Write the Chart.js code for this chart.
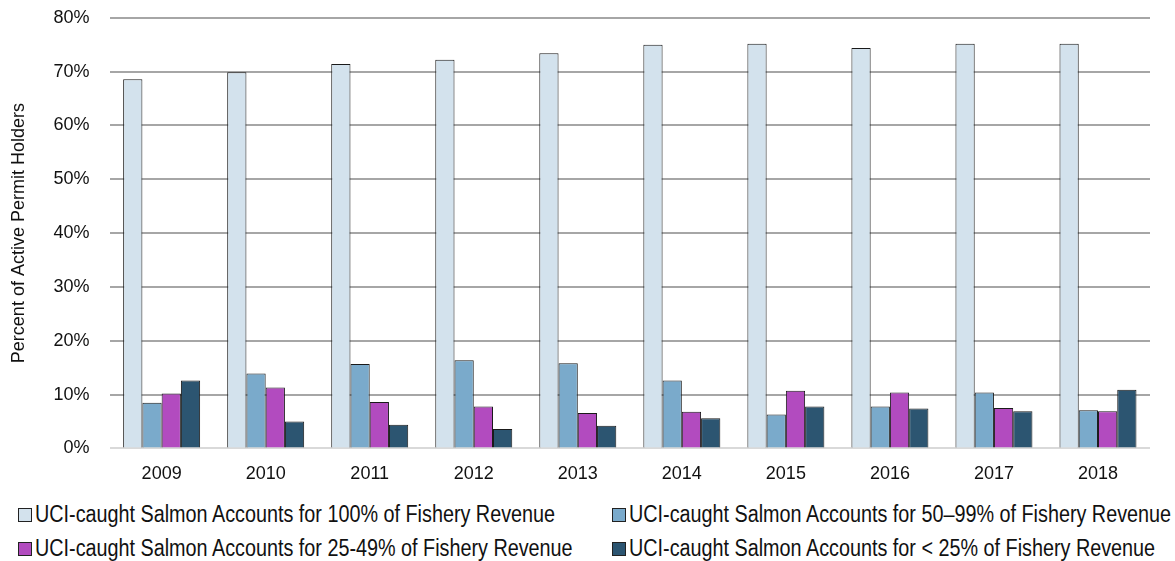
<!DOCTYPE html>
<html>
<head>
<meta charset="utf-8">
<script src="https://cdn.jsdelivr.net/npm/chart.js@4/dist/chart.umd.min.js"></script>
<style>
  html, body { margin: 0; padding: 0; background: #fff; }
  body { width: 1175px; height: 561px; overflow: hidden; font-family: "Liberation Sans", Arial, sans-serif; }
  .chart-wrap { position: relative; width: 1175px; height: 505px; margin-top: -13px; }
  .legend { display: grid; grid-template-columns: 594px 570px; padding-left: 18px; row-gap: 7px; margin-top: 9px; }
  .legend__item { display: flex; align-items: center; font-size: 23px; line-height: 27px; color: #111; white-space: nowrap; }
  .legend__box { flex: none; width: 14px; height: 14px; border: 1px solid #222; margin-right: 3px; box-sizing: border-box; }
  .legend__text { display: inline-block; transform: scaleX(0.86); transform-origin: left center; }
</style>
</head>
<body>
<div class="chart-wrap"><canvas id="chart"></canvas></div>
<div class="legend" id="legend"></div>
<script>
const years = ['2009', '2010', '2011', '2012', '2013', '2014', '2015', '2016', '2017', '2018'];

const share100 = [68.6, 69.9, 71.4, 72.2, 73.4, 75.0, 75.2, 74.4, 75.2, 75.2];
const share50to99 = [8.5, 13.9, 15.7, 16.4, 15.8, 12.6, 6.3, 7.8, 10.4, 7.1];
const share25to49 = [10.2, 11.3, 8.6, 7.8, 6.6, 6.8, 10.7, 10.4, 7.5, 6.9];
const shareUnder25 = [12.6, 5.0, 4.4, 3.6, 4.2, 5.6, 7.8, 7.4, 6.9, 10.9];

const yTicks = [0, 10, 20, 30, 40, 50, 60, 70, 80];

const SERIES = [
  { label: 'UCI-caught Salmon Accounts for 100% of Fishery Revenue', data: share100, color: '#d3e2ed' },
  { label: 'UCI-caught Salmon Accounts for 50\u201399% of Fishery Revenue', data: share50to99, color: '#7aaacb' },
  { label: 'UCI-caught Salmon Accounts for 25-49% of Fishery Revenue', data: share25to49, color: '#b24bbf' },
  { label: 'UCI-caught Salmon Accounts for < 25% of Fishery Revenue', data: shareUnder25, color: '#2c5571' },
];

// legend order: 100%, 50-99% on row 1; 25-49%, <25% on row 2
const legendEl = document.getElementById('legend');
for (const s of SERIES) {
  const item = document.createElement('div');
  item.className = 'legend__item';
  item.innerHTML = `<span class="legend__box" style="background:${s.color}"></span><span class="legend__text">${s.label}</span>`;
  legendEl.appendChild(item);
}

const FONT = "'Liberation Sans', Arial, sans-serif";

new Chart(document.getElementById('chart'), {
  type: 'bar',
  data: {
    labels: years,
    datasets: SERIES.map(s => ({
      label: s.label,
      data: s.data,
      backgroundColor: s.color,
      borderColor: '#1a1a1a',
      borderWidth: 1,
      borderSkipped: 'bottom',
      categoryPercentage: 0.74,
      barPercentage: 1.0,
    })),
  },
  options: {
    responsive: true,
    maintainAspectRatio: false,
    animation: false,
    layout: { padding: { top: 0, right: 25, left: 8, bottom: 0 } },
    plugins: {
      legend: { display: false },
      tooltip: { enabled: false },
    },
    scales: {
      x: {
        grid: { display: false },
        border: { display: false },
        ticks: { color: '#111', font: { family: FONT, size: 18 }, padding: 7 },
      },
      y: {
        min: 0,
        max: 80,
        afterBuildTicks: axis => { axis.ticks = yTicks.map(v => ({ value: v })); },
        grid: {
          color: ctx => (ctx.tick && ctx.tick.value === 0 ? '#d9d9d9' : '#a6a6a6'),
          lineWidth: 2,
          drawTicks: false,
        },
        border: { display: false },
        ticks: {
          color: '#111',
          font: { family: FONT, size: 18 },
          padding: 20,
          callback: v => v + '%',
        },
        title: {
          display: true,
          text: 'Percent of Active Permit Holders',
          color: '#111',
          font: { family: FONT, size: 18 },
          padding: { top: 0, bottom: 4 },
        },
      },
    },
  },
});
</script>
</body>
</html>
